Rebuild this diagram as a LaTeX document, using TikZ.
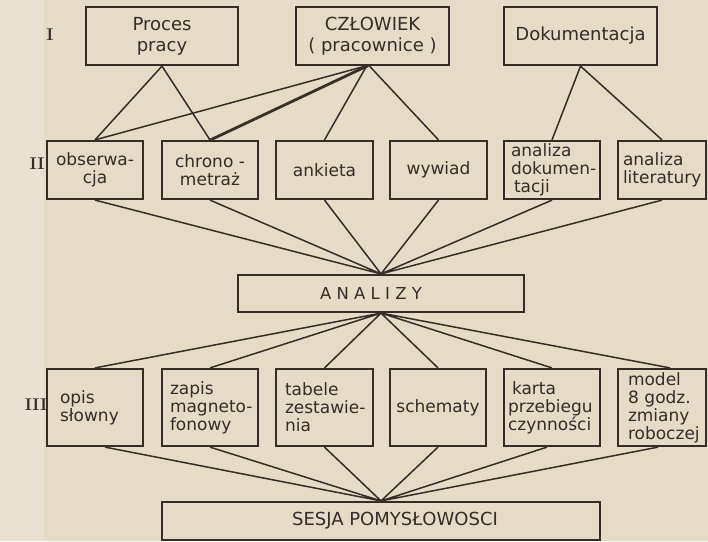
\documentclass[tikz,border=0pt]{standalone}
\usepackage{fontspec}
\setsansfont{DejaVu Sans}
\definecolor{paper}{RGB}{229,219,198}
\definecolor{margin}{RGB}{233,226,210}
\definecolor{inkcol}{RGB}{52,45,40}
% keep the hand-set line breaks inside the boxes
\exhyphenpenalty=10000
\hyphenpenalty=10000

\begin{document}
\begin{tikzpicture}[x=1pt, y=-1pt,
    box/.style={draw=inkcol, line width=2.2pt, inner sep=0pt, text=inkcol,
      font=\sffamily\fontsize{18}{21}\selectfont, align=center},
    smallbox/.style={box, font=\sffamily\fontsize{17}{18}\selectfont},
    leftbox/.style={smallbox, align=left, inner xsep=#1, inner ysep=0pt},
    conn/.style={draw=inkcol, line width=1.5pt},
    level/.style={text=inkcol, font=\rmfamily\bfseries\fontsize{17}{17}\selectfont}]
  % Paper
  \fill[paper] (0,0) rectangle (708,541);
  \fill[margin] (0,0) rectangle (44,541);
  \useasboundingbox (0,0) rectangle (708,541);
  % Level marks
  \node[level] (lI) at (50,35) {I};
  \node[level] (lII) at (37,164) {II};
  \node[level] (lIII) at (36,405) {III};
  % Sources
  \node[box, minimum width=152, minimum height=58] (proc) at (162,36) {Proces\\pracy};
  \node[box, minimum width=153, minimum height=58] (czl) at (372.5,36) {CZŁOWIEK\\( pracownice )};
  \node[box, minimum width=153, minimum height=58] (dok) at (580.5,36) {Dokumentacja};
  % Methods
  \node[smallbox, minimum width=96, minimum height=58] (obs) at (95,170) {obserwa-\\cja};
  \node[smallbox, minimum width=96, minimum height=58] (chr) at (210,170) {chrono -\\metraż};
  \node[smallbox, minimum width=97, minimum height=58] (ank) at (324.5,170) {ankieta};
  \node[smallbox, minimum width=97, minimum height=58] (wyw) at (438.5,170) {wywiad};
  \node[leftbox=7, text width=82, minimum height=58] (adok) at (552,170) {analiza\\dokumen-\\\hspace*{3pt}tacji};
  \node[leftbox=5, text width=78, minimum height=58] (alit) at (662,170) {analiza\\literatury};
  % Analyses
  \node[box, font=\sffamily\fontsize{16.5}{18}\selectfont, minimum width=286, minimum height=37] (ana) at (381,293.5) {A N A L I Z Y\hspace*{20pt}};
  % Results
  \node[leftbox=13, text width=70, minimum height=77] (opis) at (95,407.5) {opis\\słowny};
  \node[leftbox=8, text width=80, minimum height=77] (zap) at (210,407.5) {zapis\\magneto-\\fonowy};
  \node[leftbox=9, text width=79, minimum height=77] (tab) at (324.5,407.5) {tabele\\zestawie-\\nia};
  \node[smallbox, minimum width=96, minimum height=77] (sch) at (438,407.5) {schematy};
  \node[leftbox=4, text width=88, minimum height=77] (kar) at (552,407.5) {\hspace*{4pt}karta\\przebiegu\\czynności};
  \node[leftbox=10, text width=68, minimum height=77] (mod) at (662,407.5) {model\\8 godz.\\zmiany\\roboczej};
  % Session
  \node[box, minimum width=438, minimum height=38] (ses) at (381,521) {\hspace*{28pt}SESJA POMYSŁOWOSCI};
  % Sources to methods
  \draw[conn] (proc.south) -- (obs.north) (proc.south) -- (chr.north);
  \draw[conn] ([xshift=-7]czl.south) -- (obs.north);
  \draw[conn] ([xshift=-7]czl.south) -- ([xshift=-1]chr.north);
  \draw[conn] ([xshift=-4]czl.south) -- ([xshift=2]chr.north);
  \draw[conn] ([xshift=-6]czl.south) -- (ank.north);
  \draw[conn] ([xshift=-3]czl.south) -- (wyw.north);
  \draw[conn] (dok.south) -- (adok.north) (dok.south) -- (alit.north);
  % Methods to analyses
  \draw[conn] (obs.south) -- (ana.north) (chr.south) -- (ana.north)
    (ank.south) -- (ana.north) (wyw.south) -- (ana.north)
    (adok.south) -- (ana.north) (alit.south) -- (ana.north);
  % Analyses to results
  \draw[conn] (ana.south) -- (opis.north) (ana.south) -- (zap.north)
    (ana.south) -- (tab.north) (ana.south) -- (sch.north)
    (ana.south) -- (kar.north) (ana.south) -- ([xshift=8]mod.north);
  % Results to session
  \draw[conn] ([xshift=10]opis.south) -- (ses.north) (zap.south) -- (ses.north)
    (tab.south) -- (ses.north) (sch.south) -- (ses.north)
    ([xshift=-5]kar.south) -- (ses.north) ([xshift=-4]mod.south) -- (ses.north);
\end{tikzpicture}
\end{document}
